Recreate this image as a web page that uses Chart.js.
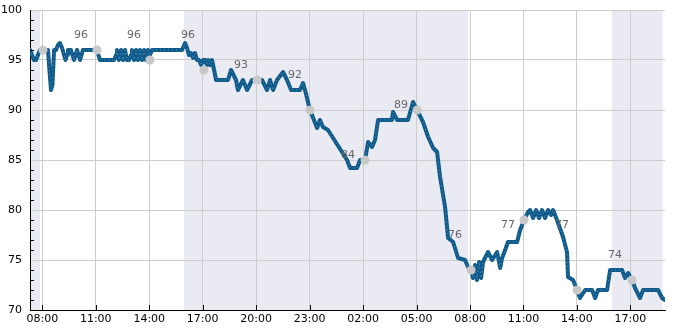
<!DOCTYPE html>
<html><head><meta charset="utf-8">
<script src="https://cdn.jsdelivr.net/npm/chart.js@4"></script>
<style>html,body{margin:0;padding:0;background:#fff}#wrap{width:685px;height:330px}</style>
</head><body><div id="wrap"><canvas id="c" width="685" height="330"></canvas></div>
<script>
// hours since midnight of day 1
const times = [7.31,7.42,7.53,7.65,7.76,7.87,8.04,8.21,8.32,8.40,8.49,8.57,8.66,8.77,8.88,8.99,9.11,9.22,9.30,9.39,9.44,9.61,9.69,9.78,9.86,9.95,10.03,10.12,10.20,10.28,11.07,11.18,11.24,12.02,12.14,12.19,12.30,12.42,12.53,12.64,12.75,12.87,12.98,13.03,13.15,13.26,13.37,13.48,13.60,13.71,13.82,13.93,14.04,14.16,15.84,16.01,16.12,16.23,16.34,16.46,16.57,16.68,16.79,16.91,17.02,17.13,17.24,17.30,17.41,17.52,17.64,17.75,18.42,18.59,18.87,18.98,19.26,19.49,19.77,20.33,20.61,20.78,20.95,21.17,21.51,21.73,21.96,22.46,22.63,22.74,23.02,23.42,23.58,23.75,24.03,25.10,25.27,25.66,25.83,26.11,26.28,26.50,26.67,26.84,27.62,27.68,27.91,28.52,28.80,29.03,29.36,29.65,29.93,30.15,30.32,30.60,30.77,31.05,31.33,31.72,31.89,32.06,32.17,32.28,32.39,32.51,32.62,32.73,33.01,33.24,33.52,33.69,33.80,33.97,34.13,34.64,34.81,35.03,35.26,35.37,35.54,35.71,35.87,36.04,36.21,36.38,36.55,36.66,36.88,37.22,37.44,37.50,37.78,38.01,38.17,38.46,38.85,39.02,39.18,39.69,39.86,40.53,40.70,40.87,41.09,41.26,41.54,41.71,42.55,42.78,42.94];
const values = [96,95.5,95,95,95.5,96,96,96,96,94,92,92.5,96,96,96.5,96.7,96.2,95.5,95,95.5,96,96,95.5,95,95.5,96,95.5,95,95.5,96,96,95.3,95,95,95.5,96,95,96,95,96,95,95,95.5,96,95,96,95,96,95,96,95,96,95.5,96,96,96.7,96.2,95.5,95.7,95.2,95.7,95,95,94.5,95,95,94.5,95,94.5,95,94,93,93,94,93,92,93,92,93,93,92,93,92,93,93.8,93,92,92,92.7,92,90,88.2,89,88.3,88,85,84.2,84.2,85,85,86.8,86.3,87,89,89,89.8,89,89,90.8,90,88.8,87.3,86.2,85.8,83.3,80.3,77.2,76.8,75.2,75,74.3,74,73.2,74.5,73,74.8,73.2,74.8,75.8,75,75.8,74.2,75.2,76,76.8,76.8,78,79,79.8,80,79.2,80,79.2,80,79.2,80,79.5,80,79,77.3,75.8,73.3,73,72,71.2,72,72,71.2,72,72,74,74,73.2,73.7,73,72.2,71.2,72,72,71.2,71];

const markerTimes = [8.04,11.07,14.04,17.07,20.05,23.02,26.11,29.03,32.06,35.03,38.01,41.09];
const markerValues = [96,96,95,94,93,90,85,90,74,79,72,73];

const labelTimes = [10.17,13.15,16.18,19.15,22.18,25.15,28.13,31.16,34.13,37.16,40.13];
const labelValues = [96,96,96,93,92,84,89,76,77,77,74];

const bandStarts = [7.31,15.95,39.97];
const bandEnds = [7.87,31.9,42.81];

const tickHours = [8,11,14,17,20,23,26,29,32,35,38,41];
const tickLabels = ['08:00','11:00','14:00','17:00','20:00','23:00','02:00','05:00','08:00','11:00','14:00','17:00'];

const xMin = 7.31, xMax = 42.94;

const lineData = times.map((t,i)=>({x:t,y:values[i]}));
const markerData = markerTimes.map((t,i)=>({x:t,y:markerValues[i]}));

const bandsPlugin = {
  id:'bands',
  beforeDraw(chart){
    const {ctx, chartArea:a, scales:{x}} = chart;
    ctx.save();
    ctx.fillStyle = '#eaeaf2';
    bandStarts.forEach((s,i)=>{
      const x0 = Math.max(a.left, x.getPixelForValue(s));
      const x1 = Math.min(a.right, x.getPixelForValue(bandEnds[i]));
      ctx.fillRect(x0, a.top, x1-x0, a.bottom-a.top);
    });
    ctx.restore();
  }
};

const ticksPlugin = {
  id:'inticks',
  afterDraw(chart){
    const {ctx, chartArea:a, scales:{x,y}} = chart;
    ctx.save();
    ctx.strokeStyle = '#000';
    ctx.lineWidth = 1;
    ctx.beginPath();
    for(let v=71; v<100; v++){
      if(v%5===0) continue;
      const py = Math.round(y.getPixelForValue(v))+0.5;
      ctx.moveTo(a.left, py); ctx.lineTo(a.left+4, py);
    }
    tickHours.forEach(h=>{
      const px = Math.round(x.getPixelForValue(h))+0.5;
      ctx.moveTo(px, a.bottom); ctx.lineTo(px, a.bottom-5);
    });
    ctx.stroke();
    ctx.restore();
  }
};

const labelsPlugin = {
  id:'vlabels',
  afterDatasetsDraw(chart){
    const {ctx, scales:{x,y}} = chart;
    ctx.save();
    ctx.font = '11px "DejaVu Sans"';
    ctx.fillStyle = '#666666';
    ctx.textAlign = 'center';
    ctx.textBaseline = 'middle';
    labelTimes.forEach((t,i)=>{
      ctx.fillText(String(labelValues[i]), x.getPixelForValue(t), y.getPixelForValue(labelValues[i]) - 15);
    });
    ctx.restore();
  }
};

new Chart(document.getElementById('c'), {
  type:'scatter',
  data:{datasets:[
    {data:lineData, showLine:true, borderColor:'#0d5a8b', borderWidth:4, borderJoinStyle:'round', borderCapStyle:'round', pointRadius:0, tension:0, order:3},
    {data:lineData, showLine:true, borderColor:'rgba(255,255,255,0.35)', borderWidth:1, borderDash:[1,3], pointRadius:0, tension:0, order:2},
    {data:markerData, showLine:false, pointRadius:4.5, pointBackgroundColor:'#c8c8c8', pointBorderWidth:0, order:1}
  ]},
  options:{
    responsive:false, animation:false, devicePixelRatio:1,
    layout:{padding:{top:10,right:20,left:0,bottom:0}},
    plugins:{legend:{display:false}, tooltip:{enabled:false}},
    scales:{
      x:{type:'linear', min:xMin, max:xMax,
        afterBuildTicks(s){ s.ticks = tickHours.map(v=>({value:v})); },
        afterFit(s){ s.height = 20; s.paddingLeft = 0; s.paddingRight = 0; },
        ticks:{autoSkip:false, maxRotation:0, padding:3, color:'#000', font:{family:'DejaVu Sans', size:11},
          callback:(v,i)=>tickLabels[i]},
        grid:{color:'#cccccc', lineWidth:1, drawTicks:false},
        border:{display:true, color:'#000', width:1}
      },
      y:{min:70, max:100,
        afterFit(s){ s.width = 30; s.paddingTop = 0; s.paddingBottom = 0; },
        ticks:{stepSize:5, padding:8, color:'#000', font:{family:'DejaVu Sans', size:11}},
        grid:{color:'#cccccc', lineWidth:1, drawTicks:false},
        border:{display:true, color:'#000', width:1}
      }
    }
  },
  plugins:[bandsPlugin, ticksPlugin, labelsPlugin]
});
</script></body></html>
